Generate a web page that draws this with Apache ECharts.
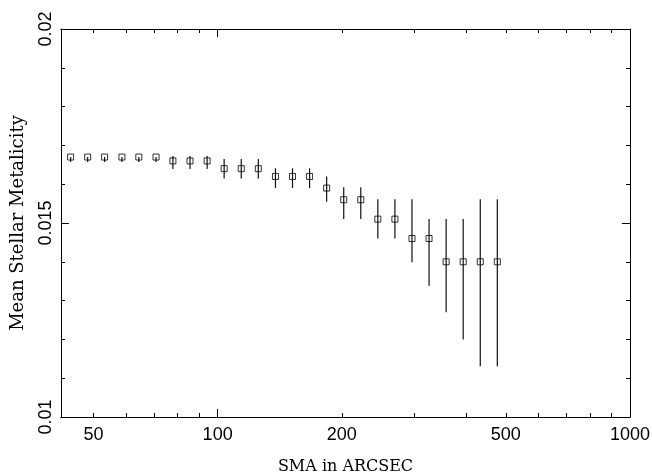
<!DOCTYPE html>
<html>
<head>
<meta charset="utf-8">
<script src="https://cdn.jsdelivr.net/npm/echarts@6/dist/echarts.min.js"></script>
<style>
html,body{margin:0;padding:0;background:#fff;}
#chart{width:652px;height:473px;}
</style>
</head>
<body>
<div id="chart"></div>
<script>
// ---- data ----
var sma = [44.0, 48.4, 53.2, 58.6, 64.4, 70.9, 77.9, 85.7, 94.3, 103.7, 114.1, 125.5, 138.1,
           151.9, 167.1, 183.8, 202.2, 222.4, 244.6, 269.1, 296.0, 325.6, 358.2, 394.0, 433.4, 476.7];
var metal = [0.0167, 0.0167, 0.0167, 0.0167, 0.0167, 0.0167, 0.0166, 0.0166, 0.0166,
             0.0164, 0.0164, 0.0164, 0.0162, 0.0162, 0.0162, 0.0159, 0.0156, 0.0156,
             0.0151, 0.0151, 0.0146, 0.0146, 0.0140, 0.0140, 0.0140, 0.0140];
var metalHigh = [0.0167, 0.0167, 0.0167, 0.0167, 0.0167, 0.0167, 0.01673, 0.01673, 0.01673,
                 0.01665, 0.01665, 0.01665, 0.01641, 0.01641, 0.01641, 0.01620, 0.01592, 0.01592,
                 0.01561, 0.01561, 0.01561, 0.01510, 0.01510, 0.01510, 0.01561, 0.01561];
var metalLow = [0.01657, 0.01657, 0.01657, 0.01657, 0.01657, 0.01657, 0.01639, 0.01639, 0.01639,
                0.01615, 0.01615, 0.01615, 0.01590, 0.01590, 0.01590, 0.01555, 0.01510, 0.01510,
                0.01460, 0.01460, 0.01399, 0.01338, 0.01270, 0.01200, 0.01131, 0.01131];
var xLabelValues = [50, 100, 200, 500, 1000];
var xMinorTickValues = [50, 60, 70, 80, 90, 200, 300, 400, 500, 600, 700, 800, 900];
var xMajorTickValues = [100];
var xMin = 41.7, xMax = 1000;
var yMin = 0.01, yMax = 0.02;

var chart = echarts.init(document.getElementById('chart'), null, {renderer: 'canvas'});

var pts = sma.map(function (s, i) { return [s, metal[i]]; });
var bars = sma.map(function (s, i) { return [s, metalLow[i], metalHigh[i]]; });

var lineStyle = {color: '#000', width: 1};
var labelFont = {fontFamily: 'Liberation Sans, Arial, sans-serif', fontSize: 18, color: '#000'};

function xAx(pos, tickVals, len, labels) {
  return {
    type: 'log', logBase: 10, position: pos, min: xMin, max: xMax, gridIndex: 0,
    axisLine: {show: true, lineStyle: lineStyle},
    axisTick: {show: true, inside: true, length: len, customValues: tickVals, lineStyle: lineStyle},
    axisLabel: labels ? Object.assign({show: true, customValues: xLabelValues, margin: 9,
      formatter: function (v) { return String(Math.round(v)); }}, labelFont) : {show: false},
    splitLine: {show: false}, minorTick: {show: false}, minorSplitLine: {show: false}
  };
}
function yAx(pos, labels) {
  return {
    type: 'value', position: pos, min: yMin, max: yMax, interval: 0.005,
    axisLine: {show: true, lineStyle: lineStyle},
    axisTick: {show: true, inside: true, length: 8, lineStyle: lineStyle},
    minorTick: {show: true, splitNumber: 5, length: 4, lineStyle: lineStyle},
    axisLabel: labels ? Object.assign({show: true, rotate: 90, margin: 6,
      formatter: function (v) { return String(+v.toFixed(3)); }}, labelFont) : {show: false},
    splitLine: {show: false}
  };
}

var xAxes = [xAx('bottom', xMinorTickValues, 4, true), xAx('bottom', xMajorTickValues, 8, false),
             xAx('top', xMinorTickValues, 4, false), xAx('top', xMajorTickValues, 8, false)];
xAxes[0].name = 'SMA in ARCSEC';
xAxes[0].nameLocation = 'middle';
xAxes[0].nameGap = 42;
xAxes[0].nameTextStyle = {fontFamily: 'DejaVu Serif, serif', fontSize: 16, color: '#000'};

var yAxes = [yAx('left', true), yAx('right', false)];
yAxes[0].name = 'Mean Stellar Metalicity';
yAxes[0].nameLocation = 'middle';
yAxes[0].nameGap = 34;
yAxes[0].nameTextStyle = {fontFamily: 'DejaVu Serif, serif', fontSize: 18, color: '#000'};

chart.setOption({
  animation: false,
  backgroundColor: '#fff',
  grid: {left: 61, right: 22, top: 29, bottom: 56, containLabel: false, outerBoundsMode: 'none'},
  xAxis: xAxes,
  yAxis: yAxes,
  series: [
    {
      type: 'custom', xAxisIndex: 0, yAxisIndex: 0, z: 2,
      data: bars,
      renderItem: function (params, api) {
        var p1 = api.coord([api.value(0), api.value(1)]);
        var p2 = api.coord([api.value(0), api.value(2)]);
        return {type: 'line', shape: {x1: p1[0], y1: p1[1], x2: p2[0], y2: p2[1]},
                style: {stroke: '#111', lineWidth: 1.2}};
      }
    },
    {
      type: 'scatter', xAxisIndex: 0, yAxisIndex: 0, z: 3,
      data: pts, symbol: 'rect', symbolSize: 6,
      itemStyle: {color: 'rgba(0,0,0,0)', borderColor: '#000', borderWidth: 1}
    }
  ]
});
</script>
</body>
</html>
